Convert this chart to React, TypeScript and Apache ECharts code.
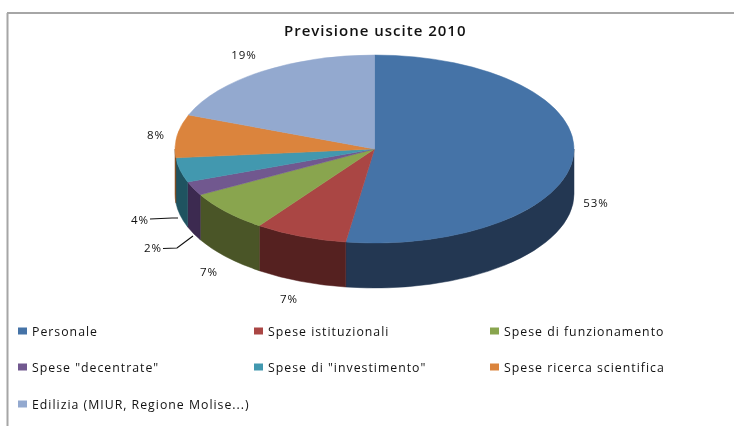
import React, { useEffect, useRef } from "react";
import * as echarts from "echarts";

const categories = [
  "Personale",
  "Spese istituzionali",
  "Spese di funzionamento",
  'Spese "decentrate"',
  'Spese di "investimento"',
  "Spese ricerca scientifica",
  "Edilizia (MIUR, Regione Molise...)",
];
const values = [52.3, 7.5, 7.1, 2.4, 4.2, 7.4, 19.1];
const percentLabels = ["53%", "7%", "7%", "2%", "4%", "8%", "19%"];
const topColors = ["#4573a7", "#aa4644", "#89a54e", "#71588f", "#4298af", "#db843d", "#93a9cf"];
const wallColors = ["#233752", "#552120", "#4a5527", "#3c2a50", "#1f5360", "#83481a", "#55658a"];
const titleText = "Previsione uscite 2010";

const FONT = "'Open Sans', sans-serif";
const CX = 374.5;
const CY = 149;
const RX = 199.5;
const RY = 94;
const DEPTH = 45;

const labelAnchors = [
  [596, 202],
  [289, 298],
  [209, 271],
  [153, 247],
  [140, 219],
  [156, 134],
  [244, 54],
];
const leaderLines: number[][][] = [
  [],
  [],
  [],
  [[163, 248.5], [177, 248], [193, 236]],
  [[150, 219], [172, 218], [178, 218]],
  [],
  [],
];
const legendCols = [18, 254, 490];
const legendRows = [325, 361, 398];

const total = values.reduce((a, b) => a + b, 0);
const pt = (deg: number, dy = 0) => {
  const r = (deg * Math.PI) / 180;
  return [CX + RX * Math.sin(r), CY - RY * Math.cos(r) + dy];
};
const startAngle = (i: number) =>
  (values.slice(0, i).reduce((a, b) => a + b, 0) / total) * 360;

function topPath(a0: number, a1: number) {
  const p0 = pt(a0);
  const p1 = pt(a1);
  const large = a1 - a0 > 180 ? 1 : 0;
  return `M${CX} ${CY}L${p0[0]} ${p0[1]}A${RX} ${RY} 0 ${large} 1 ${p1[0]} ${p1[1]}Z`;
}
function wallPath(a0: number, a1: number) {
  const s = Math.max(a0, 90);
  const e = Math.min(a1, 270);
  if (e <= s) return "";
  const p0 = pt(s);
  const p1 = pt(e);
  const q0 = pt(s, DEPTH);
  const q1 = pt(e, DEPTH);
  return `M${p0[0]} ${p0[1]}A${RX} ${RY} 0 0 1 ${p1[0]} ${p1[1]}L${q1[0]} ${q1[1]}A${RX} ${RY} 0 0 0 ${q0[0]} ${q0[1]}Z`;
}

export default function App() {
  const ref = useRef<HTMLDivElement>(null);
  useEffect(() => {
    if (!ref.current) return;
    const chart = echarts.init(ref.current, undefined, { renderer: "svg" });
    const series = categories.map((name, i) => ({
      type: "custom",
      name,
      coordinateSystem: "none",
      silent: true,
      itemStyle: { color: topColors[i] },
      data: [[values[i]]],
      renderItem: (_p: any, api: any) => {
        const v = api.value(0);
        const a0 = startAngle(i);
        const a1 = a0 + (v / total) * 360;
        const children: any[] = [];
        const wall = wallPath(a0, a1);
        if (wall) {
          children.push({
            type: "path",
            shape: { pathData: wall },
            style: { fill: wallColors[i], stroke: wallColors[i], lineWidth: 0.5 },
          });
        }
        children.push({
          type: "path",
          shape: { pathData: topPath(a0, a1) },
          style: { fill: topColors[i], stroke: topColors[i], lineWidth: 0.5 },
        });
        if (leaderLines[i].length) {
          children.push({
            type: "polyline",
            shape: { points: leaderLines[i] },
            style: { fill: "none", stroke: "#111", lineWidth: 1.2 },
          });
        }
        children.push({
          type: "text",
          x: labelAnchors[i][0],
          y: labelAnchors[i][1],
          style: {
            text: percentLabels[i],
            font: `11.5px ${FONT}`,
            fill: "#111",
            align: "center",
            verticalAlign: "middle",
          },
        });
        return { type: "group", children };
      },
    }));
    const legends = categories.map((name, i) => ({
      data: [name],
      left: legendCols[i % 3],
      top: legendRows[Math.floor(i / 3)],
      orient: "horizontal",
      padding: 0,
      icon: "rect",
      itemWidth: 9,
      itemHeight: 7,
      itemGap: 0,
      selectedMode: false,
      textStyle: { fontFamily: FONT, fontSize: 12.3, color: "#111", padding: [0, 0, 0, 0] },
    }));
    chart.setOption({
      animation: false,
      backgroundColor: "#ffffff",
      title: {
        text: titleText,
        left: 284,
        top: 22,
        padding: 0,
        textStyle: { fontFamily: FONT, fontSize: 15, fontWeight: 600, color: "#111" },
      },
      legend: legends,
      graphic: [
        {
          type: "line",
          shape: { x1: 7, y1: 13, x2: 734, y2: 13 },
          style: { stroke: "#a6a6a6", lineWidth: 2 },
        },
        {
          type: "line",
          shape: { x1: 7.5, y1: 13, x2: 7.5, y2: 426 },
          style: { stroke: "#a6a6a6", lineWidth: 2 },
        },
      ],
      series,
    });
    return () => chart.dispose();
  }, []);
  return (
    <div
      ref={ref}
      style={{
        position: "fixed",
        left: 0,
        top: 0,
        width: 734,
        height: 426,
        letterSpacing: "1px",
        filter: "blur(0.4px)",
      }}
    />
  );
}
